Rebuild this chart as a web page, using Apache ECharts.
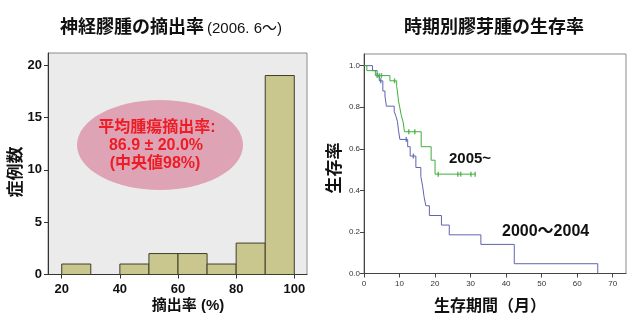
<!DOCTYPE html>
<html>
<head>
<meta charset="utf-8">
<script src="https://cdn.jsdelivr.net/npm/echarts@6/dist/echarts.min.js"></script>
<style>
  html, body { margin: 0; padding: 0; background: #fff; }
  #chart { width: 639px; height: 324px; }
</style>
</head>
<body>
<div id="chart"></div>
<script>
// Resection-rate histogram: bin edges (%) and number of cases per bin
const binLow = [20, 30, 40, 50, 60, 70, 80, 90];
const binHigh = [30, 40, 50, 60, 70, 80, 90, 100];
const caseCounts = [1, 0, 1, 2, 2, 1, 3, 19];
const histXTicks = [20, 40, 60, 80, 100];
const histYTicks = [0, 5, 10, 15, 20];

// Kaplan-Meier curves: [month, survival after the event]
const survEarly = [
  [0, 1.0], [2.4, 0.976], [3.7, 0.951], [4.3, 0.927], [5.3, 0.878], [5.9, 0.854],
  [6.3, 0.805], [8.5, 0.780], [9.0, 0.756], [9.4, 0.732], [9.7, 0.690], [10.1, 0.645],
  [12.3, 0.610], [13.0, 0.565], [14.6, 0.510], [16.0, 0.467], [16.5, 0.420],
  [16.9, 0.370], [17.4, 0.326], [18.4, 0.279], [21.8, 0.233], [24.0, 0.186],
  [32.9, 0.140], [42.3, 0.047], [65.8, 0.047], [65.8, 0.0]
];
const censorEarly = [[4.7, 0.927], [11.9, 0.645], [13.9, 0.565]];

const survLate = [
  [0, 1.0], [0.8, 0.976], [3.2, 0.952], [7.3, 0.927], [9.2, 0.900], [9.4, 0.878],
  [9.7, 0.830], [10.0, 0.805], [10.5, 0.760], [11.0, 0.730], [11.4, 0.682],
  [16.1, 0.610], [18.9, 0.545], [20.0, 0.478], [31.3, 0.478]
];
const censorLate = [
  [3.7, 0.952], [4.3, 0.952], [4.9, 0.952], [8.6, 0.927], [12.6, 0.682], [14.3, 0.682],
  [20.9, 0.478], [26.4, 0.478], [27.2, 0.478], [30.1, 0.478], [31.3, 0.478]
];
const survXTicks = [0, 10, 20, 30, 40, 50, 60, 70];
const survYTicks = [0, 0.2, 0.4, 0.6, 0.8, 1.0];

const FONT = '"Liberation Sans", "Noto Sans CJK JP", sans-serif';

const histData = binLow.map((lo, i) => [lo, binHigh[i], caseCounts[i]]).filter(d => d[2] > 0);

const chart = echarts.init(document.getElementById('chart'), null, { renderer: 'canvas' });

function txt(x, y, text, size, opts) {
  return Object.assign({
    type: 'text', x: x, y: y, z: 100,
    style: Object.assign({
      text: text, fontFamily: FONT, fontSize: size, fontWeight: 'bold',
      fill: '#111', align: 'center', verticalAlign: 'middle'
    }, opts || {})
  });
}

chart.setOption({
  animation: false,
  backgroundColor: '#fff',
  grid: [
    { left: 48, top: 53, width: 259, height: 221.5, show: true,
      backgroundColor: '#ebebeb', borderColor: '#8a8a8a', borderWidth: 1 },
    { left: 364, top: 54, width: 262, height: 219.5, show: true,
      backgroundColor: '#fff', borderColor: '#8a8a8a', borderWidth: 1 }
  ],
  xAxis: [
    { type: 'value', gridIndex: 0, min: 15.28, max: 104.37,
      axisLine: { show: true, lineStyle: { color: '#333', width: 1 } },
      axisTick: { show: true, length: 4, customValues: histXTicks, lineStyle: { color: '#333' } },
      axisLabel: { customValues: histXTicks, color: '#111', fontFamily: FONT, fontSize: 13, fontWeight: 'bold', margin: 8 },
      splitLine: { show: false } },
    { type: 'value', gridIndex: 1, min: 0, max: 73.75,
      axisLine: { show: true, lineStyle: { color: '#444', width: 1 } },
      axisTick: { show: true, length: 4, customValues: survXTicks, lineStyle: { color: '#444' } },
      axisLabel: { customValues: survXTicks, color: '#333', fontFamily: FONT, fontSize: 8, margin: 6 },
      splitLine: { show: false } }
  ],
  yAxis: [
    { type: 'value', gridIndex: 0, min: 0, max: 21.15,
      axisLine: { show: true, lineStyle: { color: '#333', width: 1 } },
      axisTick: { show: true, length: 4, customValues: histYTicks, lineStyle: { color: '#333' } },
      axisLabel: { customValues: histYTicks, color: '#111', fontFamily: FONT, fontSize: 13, fontWeight: 'bold', margin: 6 },
      splitLine: { show: false } },
    { type: 'value', gridIndex: 1, min: 0, max: 1.056,
      axisLine: { show: true, lineStyle: { color: '#444', width: 1 } },
      axisTick: { show: true, length: 4, customValues: survYTicks, lineStyle: { color: '#444' } },
      axisLabel: { customValues: survYTicks, formatter: v => v.toFixed(1), color: '#333', fontFamily: FONT, fontSize: 8, margin: 4 },
      splitLine: { show: false } }
  ],
  series: [
    {
      type: 'custom', xAxisIndex: 0, yAxisIndex: 0, data: histData, z: 3,
      renderItem: function (params, api) {
        const top = api.coord([api.value(0), api.value(2)]);
        const base = api.coord([api.value(1), 0]);
        return {
          type: 'rect',
          shape: { x: top[0], y: top[1], width: base[0] - top[0], height: base[1] - top[1] },
          style: { fill: '#c9c68e', stroke: '#3e3e2c', lineWidth: 1 }
        };
      }
    },
    {
      type: 'line', xAxisIndex: 1, yAxisIndex: 1, data: survEarly, step: 'end',
      showSymbol: false, lineStyle: { color: '#5f63ae', width: 1 }, z: 3
    },
    {
      type: 'line', xAxisIndex: 1, yAxisIndex: 1, data: survLate, step: 'end',
      showSymbol: false, lineStyle: { color: '#3fae3a', width: 1 }, z: 4
    },
    {
      type: 'scatter', xAxisIndex: 1, yAxisIndex: 1, data: censorEarly,
      symbol: 'rect', symbolSize: [1.5, 5], itemStyle: { color: '#5f63ae' }, z: 5
    },
    {
      type: 'scatter', xAxisIndex: 1, yAxisIndex: 1, data: censorLate,
      symbol: 'rect', symbolSize: [1.5, 5], itemStyle: { color: '#3fae3a' }, z: 5
    }
  ],
  graphic: [
    // titles
    txt(132, 28, '神経膠腫の摘出率', 18),
    txt(207, 29, '(2006. 6～)', 15, { fontWeight: 'normal', align: 'left' }),
    txt(494, 28, '時期別膠芽腫の生存率', 18),
    // axis titles
    txt(188, 306, '摘出率 (%)', 15),
    Object.assign(txt(16, 172, '症例数', 17), { rotation: Math.PI / 2 }),
    txt(490, 307, '生存期間（月）', 16),
    Object.assign(txt(335, 168, '生存率', 17), { rotation: Math.PI / 2 }),
    // mean resection annotation
    { type: 'ellipse', z: 50, shape: { cx: 160, cy: 145, rx: 83, ry: 45 },
      style: { fill: '#dfa3b6' } },
    txt(157, 128, '平均腫瘍摘出率:', 16, { fill: '#ee1c24' }),
    txt(156, 146, '86.9 ± 20.0%', 16, { fill: '#ee1c24' }),
    txt(155, 164, '(中央値98%)', 16, { fill: '#ee1c24' }),
    // curve labels
    txt(449, 159, '2005~', 15, { align: 'left' }),
    txt(502, 232, '2000～2004', 16, { align: 'left' })
  ]
});
</script>
</body>
</html>
